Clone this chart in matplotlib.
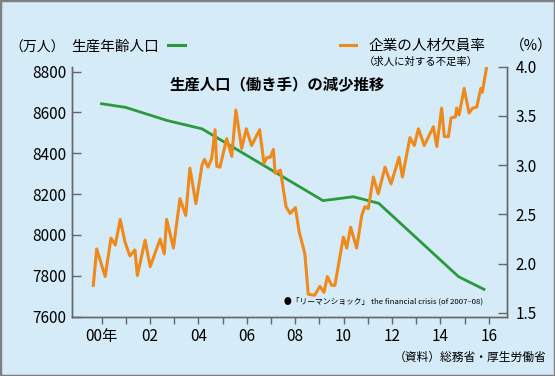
import matplotlib
matplotlib.use('Agg')
import matplotlib.pyplot as plt
from matplotlib.lines import Line2D

plt.rcParams['font.family'] = ['Noto Sans CJK JP', 'DejaVu Sans']

# ── data ─────────────────────────────────────────────────────────────────────
pop_year = [2000.0, 2001.0, 2002.7, 2004.15, 2009.15, 2010.4, 2011.45, 2014.75, 2015.8]
pop_val = [8643, 8625, 8561, 8520, 8168, 8187, 8155, 7795, 7733]

rate_year = [1999.66, 1999.80, 2000.15, 2000.39, 2000.57, 2000.77, 2000.97, 2001.17,
             2001.38, 2001.48, 2001.80, 2002.01, 2002.42, 2002.59, 2002.69, 2002.97,
             2003.24, 2003.48, 2003.65, 2003.90, 2004.15, 2004.25, 2004.40, 2004.55,
             2004.69, 2004.76, 2004.89, 2005.17, 2005.38, 2005.55, 2005.79, 2005.98,
             2006.20, 2006.53, 2006.71, 2006.84, 2006.97, 2007.10, 2007.17, 2007.39,
             2007.62, 2007.79, 2008.01, 2008.16, 2008.40, 2008.54, 2008.80, 2009.02,
             2009.19, 2009.33, 2009.51, 2009.64, 2009.99, 2010.13, 2010.29, 2010.54,
             2010.75, 2010.88, 2011.02, 2011.23, 2011.43, 2011.71, 2011.96, 2012.29,
             2012.43, 2012.74, 2012.92, 2013.09, 2013.33, 2013.71, 2013.85, 2014.05,
             2014.16, 2014.33, 2014.44, 2014.62, 2014.67, 2014.77, 2014.98, 2015.18,
             2015.33, 2015.50, 2015.67, 2015.73, 2015.91]
rate_val = [1.78, 2.15, 1.87, 2.26, 2.19, 2.45, 2.22, 2.08,
            2.14, 1.88, 2.24, 1.97, 2.25, 2.10, 2.45, 2.16,
            2.66, 2.49, 2.97, 2.61, 3.00, 3.06, 2.98, 3.07,
            3.36, 2.99, 2.98, 3.27, 3.09, 3.56, 3.17, 3.37,
            3.20, 3.36, 3.02, 3.08, 3.08, 3.16, 2.92, 2.95,
            2.58, 2.51, 2.57, 2.33, 2.10, 1.69, 1.68, 1.77,
            1.71, 1.87, 1.78, 1.78, 2.27, 2.16, 2.37, 2.16,
            2.49, 2.58, 2.56, 2.88, 2.71, 2.98, 2.81, 3.08,
            2.88, 3.28, 3.20, 3.37, 3.20, 3.39, 3.19, 3.58,
            3.29, 3.29, 3.48, 3.49, 3.58, 3.51, 3.78, 3.53,
            3.58, 3.59, 3.78, 3.74, 4.00]

years = list(range(2000, 2017))
year_labels = ['00年', '', '02', '', '04', '', '06', '', '08', '', '10', '', '12', '', '14', '', '16']
left_ticks = [7600, 7800, 8000, 8200, 8400, 8600, 8800]
right_ticks = [1.5, 2.0, 2.5, 3.0, 3.5, 4.0]

BG = '#d5ebf8'
GREEN = '#2b9a3f'
ORANGE = '#ee8a1c'
AXC = '#666666'
W, H = 555, 376


def px(x, y):
    return x / W, 1 - y / H


fig = plt.figure(figsize=(W / 100, H / 100), dpi=100, facecolor=BG)
ax = fig.add_axes([72 / W, 1 - 316.5 / H, (507 - 72) / W, (316.5 - 66.7) / H])
ax.set_facecolor(BG)
ax2 = ax.twinx()

ax.plot(pop_year, pop_val, color=GREEN, linewidth=2.0, solid_joinstyle='round')
ax2.plot(rate_year, rate_val, color=ORANGE, linewidth=2.2, solid_joinstyle='round')

ax.set_xlim(1998.78, 2016.75)
ax.set_ylim(7600, 8824.5)
ax2.set_ylim(1.4644, 4.0)

ax.set_xticks(years)
ax.set_xticklabels(year_labels, fontsize=11)
ax.set_yticks(left_ticks)
ax.set_yticklabels([str(v) for v in left_ticks], fontsize=11)
ax2.set_yticks(right_ticks)
ax2.set_yticklabels([f'{v:.1f}' for v in right_ticks], fontsize=11)

for a in (ax, ax2):
    a.spines['top'].set_visible(False)
    for s in ('left', 'right', 'bottom'):
        a.spines[s].set_color(AXC)
        a.spines[s].set_linewidth(1.0)
ax.tick_params(axis='x', direction='out', length=5, width=1, color=AXC, pad=3)
ax.tick_params(axis='y', direction='in', length=6.5, width=1, color=AXC, pad=4)
ax2.tick_params(axis='y', direction='in', length=6.5, width=1, color=AXC, pad=6)

# ── texts / legend ───────────────────────────────────────────────────────────
fig.text(*px(9, 48), '（万人）', fontsize=10, va='center', ha='left')
fig.text(*px(71, 47), '生産年齢人口', fontsize=10.5, va='center', ha='left')
fig.add_artist(Line2D([168 / W, 185 / W], [1 - 45 / H, 1 - 45 / H],
                      color=GREEN, linewidth=2.2, transform=fig.transFigure))
fig.add_artist(Line2D([340 / W, 356 / W], [1 - 45 / H, 1 - 45 / H],
                      color=ORANGE, linewidth=2.2, transform=fig.transFigure))
fig.text(*px(368, 46), '企業の人材欠員率', fontsize=10.5, va='center', ha='left')
fig.text(*px(364, 62), '（求人に対する不足率）', fontsize=7.5, va='center', ha='left')
fig.text(*px(510, 46), '（%）', fontsize=10.5, va='center', ha='left')
fig.text(*px(170, 85), '生産人口（働き手）の減少推移', fontsize=11.1, fontweight='bold',
         va='center', ha='left')
fig.text(*px(284, 301), '●「リーマンショック」 the financial crisis (of 2007–08)',
         fontsize=5.6, va='center', ha='left')
fig.text(*px(546, 357), '（資料）総務省・厚生労働省', fontsize=8.5, va='center', ha='right')

fig.add_artist(plt.Rectangle((0, 0), 1, 1, fill=False, edgecolor='#808080',
                             linewidth=2.5, transform=fig.transFigure))

fig.savefig('out.png', dpi=100, facecolor=BG)
